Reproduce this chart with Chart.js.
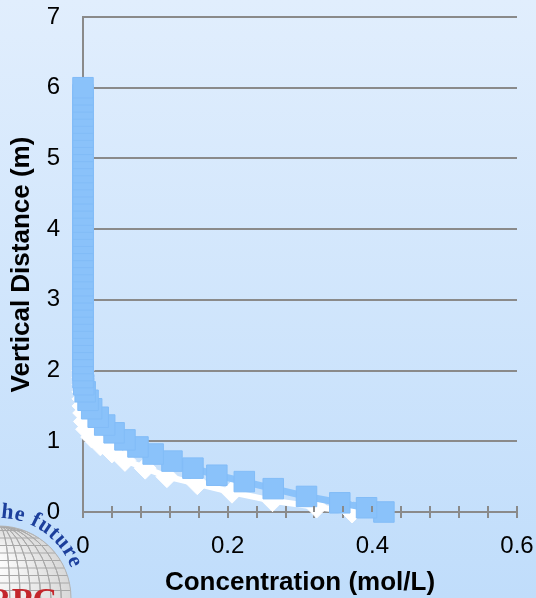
<!DOCTYPE html>
<html>
<head>
<meta charset="utf-8">
<script src="https://cdn.jsdelivr.net/npm/chart.js@4.4.0/dist/chart.umd.min.js"></script>
<style>
  html, body { margin: 0; padding: 0; background: #c8e2fc; }
  canvas { display: block; }
</style>
</head>
<body>
<canvas id="profileChart" width="536" height="598"></canvas>
<script>
// values
let concBlue = [0.416, 0.392, 0.355, 0.309, 0.263, 0.223, 0.185, 0.152, 0.123, 0.097,
    0.076, 0.058, 0.043, 0.030, 0.021, 0.012, 0.007, 0.003, 0.001, 0,
    0, 0, 0, 0, 0, 0, 0, 0, 0, 0,
    0, 0, 0, 0, 0, 0, 0, 0, 0, 0,
    0, 0, 0, 0, 0, 0, 0, 0, 0, 0,
    0, 0, 0, 0, 0, 0, 0, 0, 0, 0, 0];
let heightBlue = [0, 0.06, 0.13, 0.22, 0.33, 0.43, 0.52, 0.62, 0.72, 0.82,
    0.92, 1.02, 1.12, 1.23, 1.34, 1.46, 1.58, 1.70, 1.80, 1.90,
    2.0, 2.1, 2.2, 2.3, 2.4, 2.5, 2.6, 2.7, 2.8, 2.9,
    3.0, 3.1, 3.2, 3.3, 3.4, 3.5, 3.6, 3.7, 3.8, 3.9,
    4.0, 4.1, 4.2, 4.3, 4.4, 4.5, 4.6, 4.7, 4.8, 4.9,
    5.0, 5.1, 5.2, 5.3, 5.4, 5.5, 5.6, 5.7, 5.8, 5.9, 6.0];

let concWhite = [0.372, 0.323, 0.262, 0.206, 0.158, 0.116, 0.086, 0.058, 0.040, 0.024,
    0.012, 0.005, 0.002, 0.001, 0, 0, 0, 0, 0, 0];
let heightWhite = [0, 0.07, 0.16, 0.28, 0.40, 0.50, 0.62, 0.73, 0.85, 0.95,
    1.06, 1.17, 1.28, 1.40, 1.50, 1.60, 1.70, 1.80, 1.90, 2.0];

let xMajorLabels = [0, 0.2, 0.4, 0.6];
let xTitle = 'Concentration (mol/L)';
let yTitle = 'Vertical Distance (m)';
let logoText = 'the future';
let logoLetters = 'RPC';

const gridGray = '#8a8a8a';
const blue = '#8ac2fa';

let profileChartElement = document.getElementById('profileChart');

const backgroundPlugin = {
    id: 'background',
    beforeDraw: (chart) => {
        let ctx = chart.ctx;
        ctx.save();
        let grad = ctx.createLinearGradient(0, 0, 0, chart.height);
        grad.addColorStop(0, '#e1eefd');
        grad.addColorStop(1, '#c0ddfb');
        ctx.fillStyle = grad;
        ctx.fillRect(0, 0, chart.width, chart.height);

        // logo in the bottom left corner
        let cx = -1, cy = 598, r = 72;
        ctx.beginPath();
        ctx.arc(cx, cy, r, 0, Math.PI * 2);
        let glob = ctx.createRadialGradient(cx - 10, cy - 40, 5, cx, cy, r);
        glob.addColorStop(0, '#ffffff');
        glob.addColorStop(1, '#d8d8d8');
        ctx.fillStyle = glob;
        ctx.fill();
        ctx.save();
        ctx.clip();
        ctx.strokeStyle = '#a8a8a8';
        ctx.lineWidth = 1;
        for (let k = -7; k <= 7; k++) {
            ctx.beginPath();
            ctx.ellipse(cx, cy, Math.abs(k) * r / 7 + 0.5, r, 0, 0, Math.PI * 2);
            ctx.stroke();
        }
        for (let k = 1; k < 10; k++) {
            ctx.beginPath();
            ctx.moveTo(cx - r, cy - k * 7.5);
            ctx.lineTo(cx + r, cy - k * 7.5);
            ctx.stroke();
        }
        ctx.restore();
        ctx.beginPath();
        ctx.arc(cx, cy, r, 0, Math.PI * 2);
        ctx.strokeStyle = '#b4b4b4';
        ctx.stroke();

        ctx.fillStyle = '#1c3f9c';
        ctx.font = 'bold 22px "Liberation Serif"';
        ctx.textBaseline = 'alphabetic';
        ctx.textAlign = 'left';
        let angle = -95 * Math.PI / 180;
        let midRadius = 83;
        let baseRadius = 77;
        for (let ch of logoText) {
            let w = ctx.measureText(ch).width + 1.5;
            let a = angle + (w / 2) / midRadius;
            ctx.save();
            ctx.translate(cx + Math.cos(a) * baseRadius, cy - 3 + Math.sin(a) * baseRadius);
            ctx.rotate(a + Math.PI / 2);
            ctx.fillText(ch, -(w - 1.5) / 2, 0);
            ctx.restore();
            angle += w / midRadius;
        }

        ctx.fillStyle = '#c4262c';
        ctx.font = 'bold 34px "Liberation Serif"';
        ctx.textAlign = 'right';
        ctx.fillText(logoLetters, 57, 611);
        ctx.restore();
    }
};

const crossTicksPlugin = {
    id: 'crossTicks',
    afterDraw: (chart) => {
        let ctx = chart.ctx;
        let xScale = chart.scales.x;
        let bottom = chart.chartArea.bottom;
        ctx.save();
        ctx.strokeStyle = gridGray;
        ctx.lineWidth = 2;
        xScale.ticks.forEach(t => {
            let px = Math.round(xScale.getPixelForValue(t.value));
            ctx.beginPath();
            ctx.moveTo(px, bottom - 6);
            ctx.lineTo(px, bottom);
            ctx.stroke();
        });
        ctx.restore();
    }
};

const profileChart = new Chart(profileChartElement, {
    type: 'scatter',
    data: {
        datasets: [{
            label: 'blue',
            data: concBlue.map((c, i) => ({x: c, y: heightBlue[i]})),
            showLine: true,
            borderColor: blue,
            borderWidth: 7,
            pointStyle: 'rect',
            pointRadius: 14.5,
            pointBackgroundColor: blue,
            pointBorderColor: '#82bcf7',
            pointBorderWidth: 1,
            clip: false,
            order: 0
        }, {
            label: 'white',
            data: concWhite.map((c, i) => ({x: c, y: heightWhite[i]})),
            showLine: true,
            borderColor: '#ffffff',
            borderWidth: 6,
            pointStyle: 'rectRot',
            pointRadius: 11,
            pointBackgroundColor: '#ffffff',
            pointBorderColor: '#ffffff',
            pointBorderWidth: 1,
            clip: false,
            order: 1
        }]
    },
    options: {
        responsive: false,
        animation: false,
        layout: { padding: { top: 17, right: 19, left: 0, bottom: 0 } },
        plugins: {
            legend: { display: false },
            tooltip: { enabled: false }
        },
        scales: {
            x: {
                type: 'linear',
                min: 0,
                max: 0.6,
                afterFit: (scale) => {
                    scale.height = 86;
                    scale.paddingLeft = 0;
                    scale.paddingRight = 0;
                },
                border: { display: true, color: gridGray, width: 2 },
                grid: { drawOnChartArea: false, drawTicks: true, tickLength: 6, color: gridGray, lineWidth: 2 },
                ticks: {
                    stepSize: 0.04,
                    autoSkip: false,
                    maxRotation: 0,
                    padding: 14,
                    color: '#000',
                    font: { family: '"Liberation Sans", Arial', size: 24 },
                    callback: (v) => {
                        let hit = xMajorLabels.find(m => Math.abs(m - v) < 1e-6);
                        return hit === undefined ? '' : String(hit);
                    }
                },
                title: {
                    display: true,
                    text: xTitle,
                    color: '#000',
                    padding: { top: 0, bottom: 0 },
                    font: { family: '"Liberation Sans", Arial', size: 26, weight: 'bold' }
                }
            },
            y: {
                type: 'linear',
                min: 0,
                max: 7,
                afterFit: (scale) => {
                    scale.width = 83;
                    scale.paddingTop = 0;
                    scale.paddingBottom = 0;
                },
                border: { display: true, color: gridGray, width: 2 },
                grid: { drawTicks: false, color: gridGray, lineWidth: 2 },
                ticks: {
                    stepSize: 1,
                    padding: 23,
                    color: '#000',
                    font: { family: '"Liberation Sans", Arial', size: 24 }
                },
                title: {
                    display: true,
                    text: yTitle,
                    color: '#000',
                    padding: { top: 6, bottom: 0 },
                    font: { family: '"Liberation Sans", Arial', size: 26, weight: 'bold' }
                }
            }
        }
    },
    plugins: [backgroundPlugin, crossTicksPlugin]
});
</script>
</body>
</html>
